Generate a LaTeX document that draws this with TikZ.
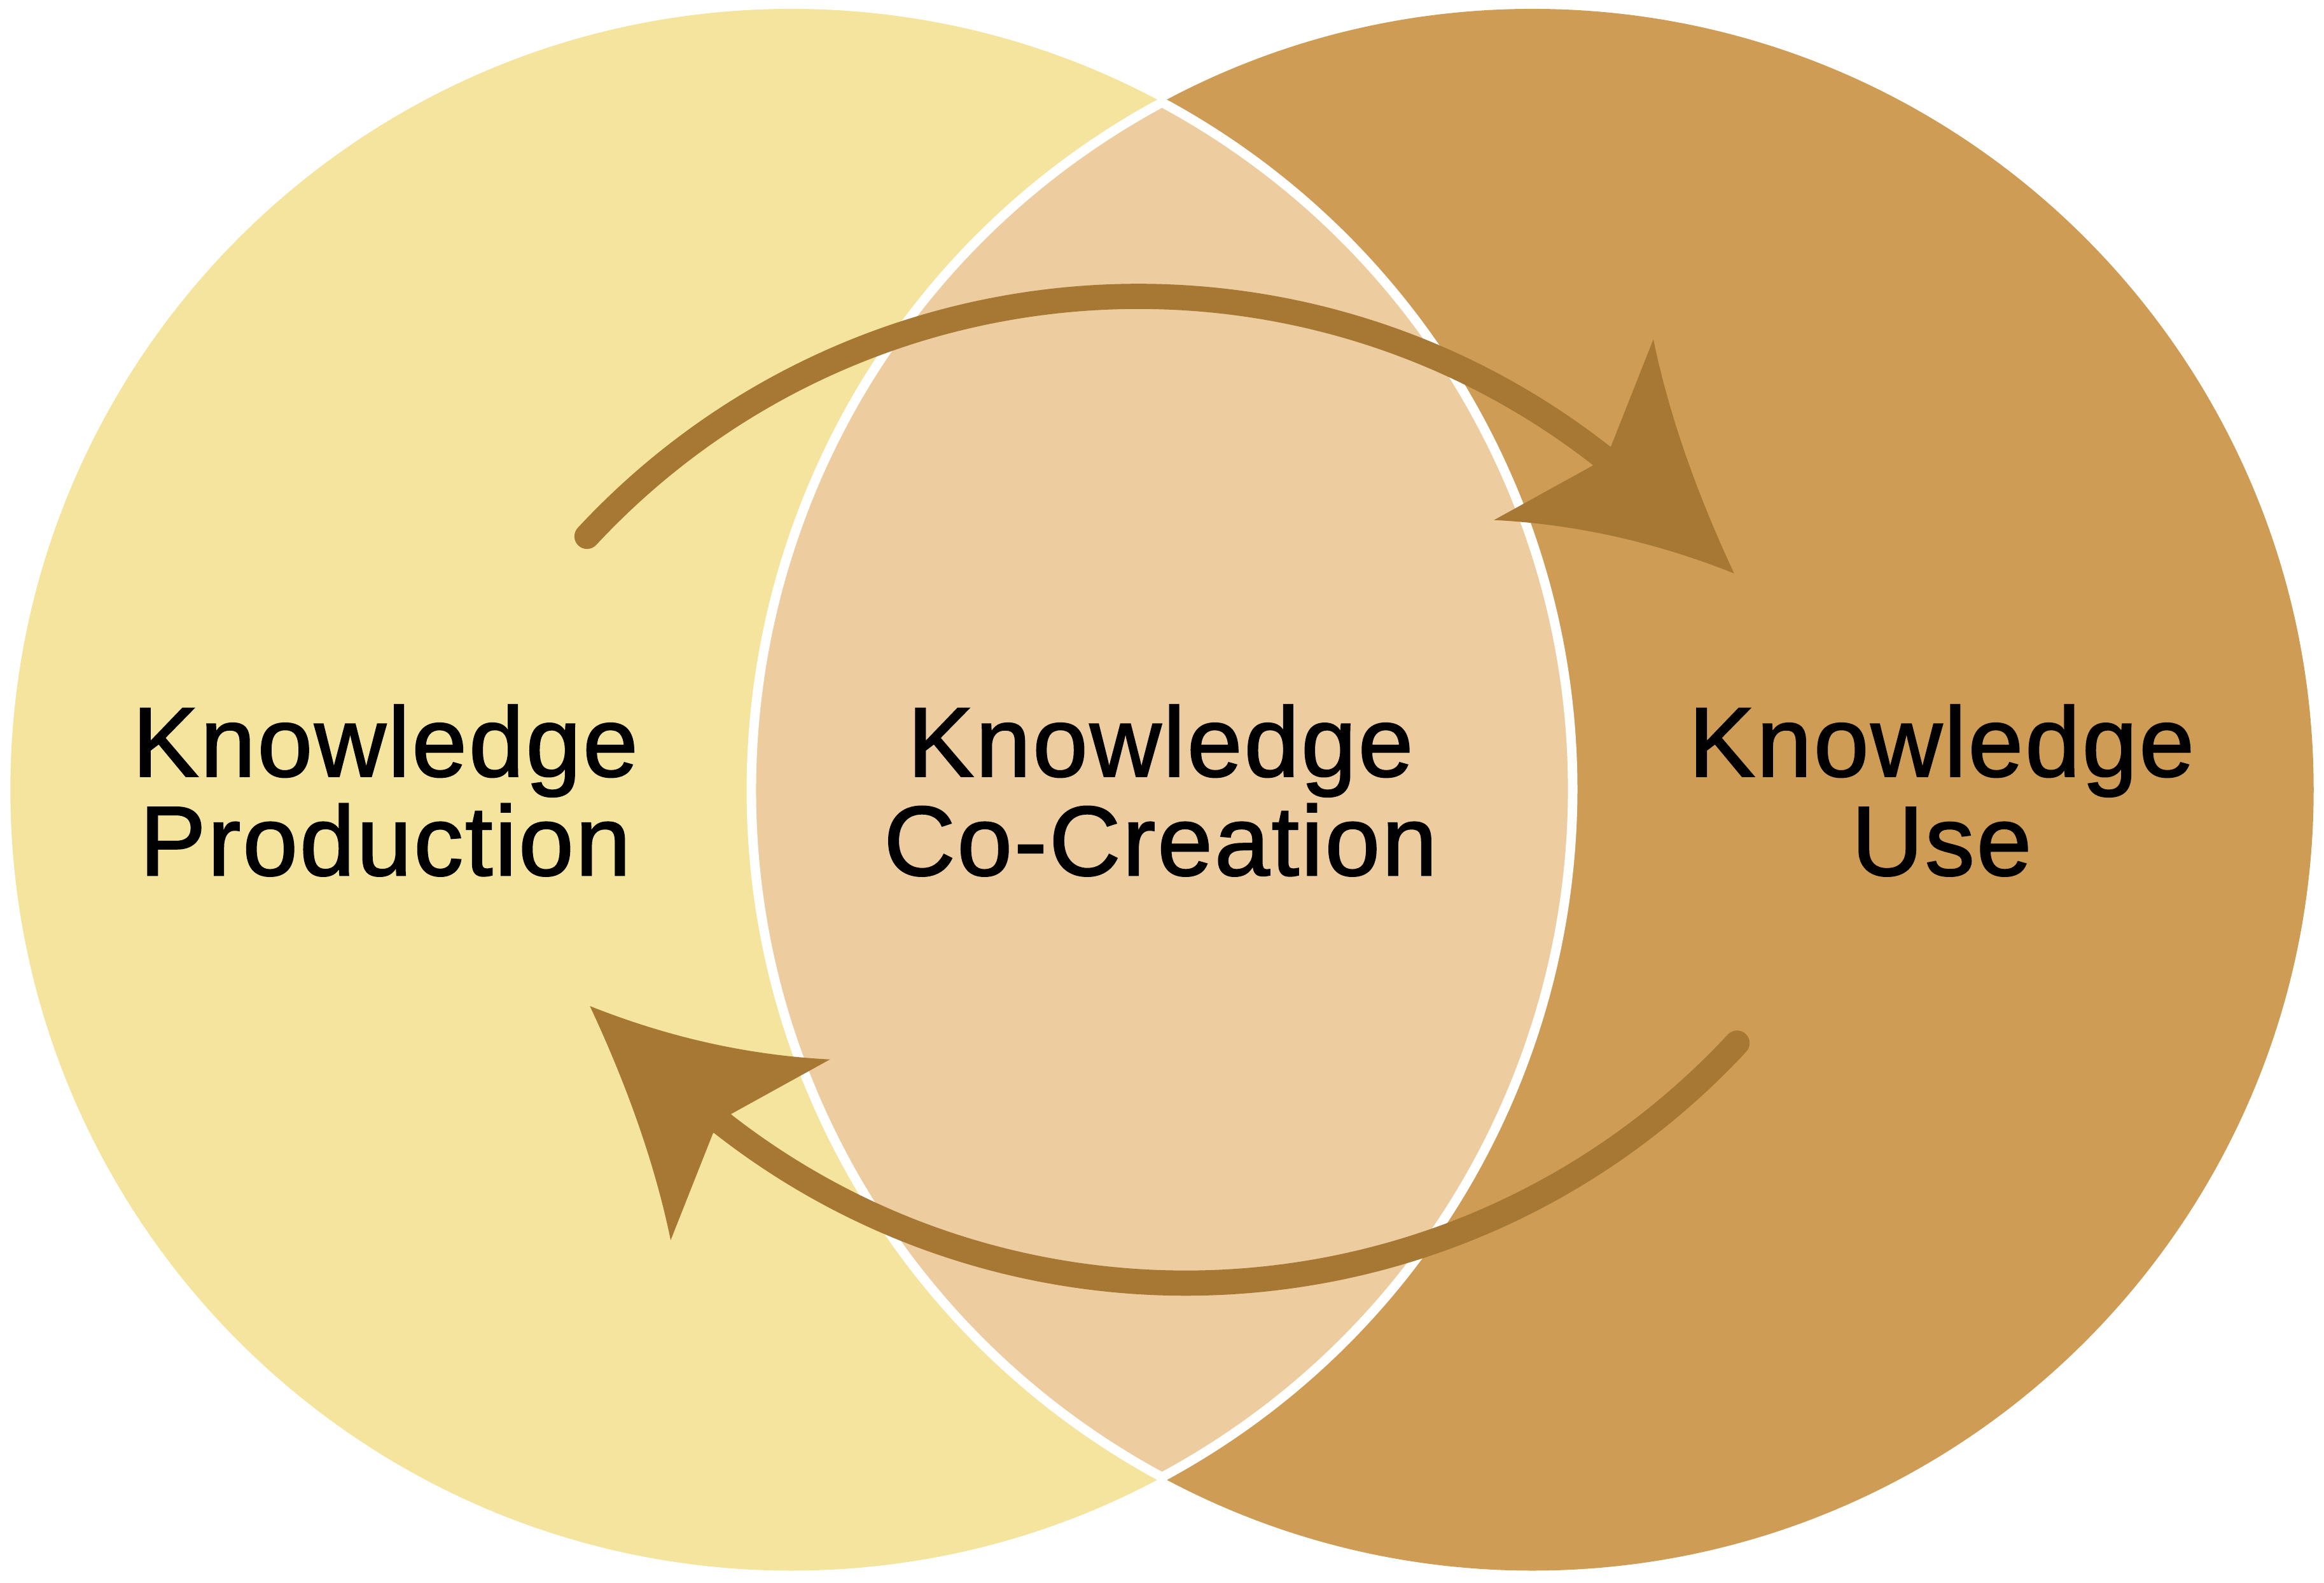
\documentclass[tikz,border=0pt]{standalone}
\usepackage{fontspec}
\setmainfont{Liberation Sans}[LetterSpace=2.0,FakeBold=1.5]
\usetikzlibrary{calc}

\definecolor{prodcol}{RGB}{245,228,157}
\definecolor{usecol}{RGB}{207,156,85}
\definecolor{lenscol}{RGB}{237,204,159}
\definecolor{arrcol}{RGB}{166,120,51}

\tikzset{
  txt/.style={align=center, inner sep=0pt, font=\fontsize{19}{19}\selectfont},
  flow/.style={draw=arrcol, line width=0.17cm, line cap=round},
  head/.style={fill=arrcol}
}

\begin{document}
\begin{tikzpicture}
\useasboundingbox (0,0) rectangle (15.68,10.68);

% the two circles and the overlap
\fill[prodcol] (5.34,5.35) circle (5.27);
\fill[usecol] (10.34,5.35) circle (5.27);
\coordinate (low) at (7.84,0.7107);
\path[fill=lenscol, draw=white, line width=0.064cm] (low)
  arc[start angle=-61.68, end angle=61.68, radius=5.27]
  arc[start angle=118.32, end angle=241.68, radius=5.27] -- cycle;

% labels
\node[txt] (prod) at (2.60,5.345) {Knowledge\\Production};
\node[txt] (cocr) at (7.83,5.345) {Knowledge\\Co-Creation};
\node[txt] (use) at (13.10,5.345) {Knowledge\\Use};

% upper arrow
\coordinate (s1) at ($(7.679,3.602)+(137.08:5.078)$);
\coordinate (t1) at (11.70,6.81);
\draw[flow] (s1) arc[start angle=137.08, end angle=48, radius=5.078];
\path[head] (t1) .. controls (11.437,7.373) and (11.256,7.899) .. (11.155,8.39)
  -- (10.87,7.67) -- (10.75,7.54) -- (10.08,7.17)
  .. controls (10.625,7.143) and (11.165,7.023) .. (t1) -- cycle;

% lower arrow
\coordinate (s2) at ($(8.001,7.098)+(317.08:5.078)$);
\coordinate (t2) at (3.98,3.89);
\draw[flow] (s2) arc[start angle=317.08, end angle=228, radius=5.078];
\path[head] (t2) .. controls (4.243,3.327) and (4.424,2.801) .. (4.525,2.31)
  -- (4.81,3.03) -- (4.93,3.16) -- (5.60,3.53)
  .. controls (5.055,3.557) and (4.515,3.677) .. (t2) -- cycle;
\end{tikzpicture}
\end{document}
